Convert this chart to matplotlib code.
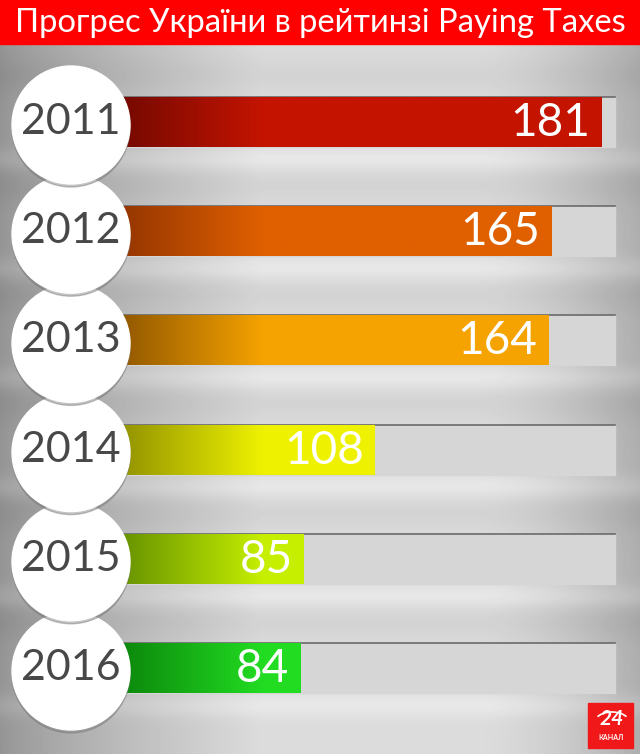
import numpy as np
import matplotlib
matplotlib.use("Agg")
import matplotlib.pyplot as plt
from matplotlib.patches import Rectangle, Circle, Arc
from matplotlib.colors import to_rgb

years = ['2011', '2012', '2013', '2014', '2015', '2016']
ranks = [181, 165, 164, 108, 85, 84]
dark_colors = ['#6e0800', '#8e3200', '#8a5200', '#8a8a00', '#5e8a00', '#0a800a']
bright_colors = ['#c41400', '#e06000', '#f5a300', '#eef200', '#c6ef00', '#22dc22']
title = 'Прогрес України в рейтинзі Paying Taxes'

W, H = 640, 754
plt.rcParams['font.family'] = ['Lato', 'DejaVu Sans']

fig = plt.figure(figsize=(W / 100, H / 100), dpi=100)

# background in pixel coordinates
ax_bg = fig.add_axes([0, 0, 1, 1])
ax_bg.set_xlim(0, W)
ax_bg.set_ylim(H, 0)
ax_bg.axis('off')

bar_h = 50
bar_tops = [97 + 109.2 * i for i in range(len(years))]

xs = np.arange(W)
col = 0.58 + 0.28 * np.clip(xs / 260, 0, 1) ** 0.8
col -= 0.18 * np.clip((xs - 480) / 160, 0, 1) ** 1.5
rows = np.zeros(H)
ys = np.arange(H)
for top in bar_tops:
    bot = top + bar_h
    rows += 0.05 * np.exp(-((ys - (bot + 12)) / 12) ** 2)
    rows -= 0.03 * np.exp(-((ys - (top - 22)) / 20) ** 2)
bg = np.clip(col[None, :] + rows[:, None], 0, 1)
ax_bg.imshow(bg, cmap='gray', vmin=0, vmax=1, extent=(0, W, H, 0), aspect='auto', zorder=0)

# title band
ax_bg.add_patch(Rectangle((0, 0), W, 44, color='#fe0000', zorder=1))
t = ax_bg.text(W / 2, 23, title, color='white', ha='center', va='center',
               fontsize=24, zorder=2)
fig.canvas.draw()
w = t.get_window_extent().width
t.set_fontsize(24 * 612 / w)

# tracks
for top in bar_tops:
    ax_bg.add_patch(Rectangle((110, top), 505, bar_h, color='#d6d6d6', zorder=1))
    ax_bg.plot([110, 615], [top, top], color='#6a6a6a', lw=1.2, zorder=1)

# bars in value units
ax = fig.add_axes([0, 0, 1, 1])
ax.patch.set_alpha(0)
ax.axis('off')
x0_px, px_per_unit = 40, 3.1
for i, (v, c0, c1) in enumerate(zip(ranks, dark_colors, bright_colors)):
    xv = np.linspace(0, v, 300)
    tt = np.clip((xv - 22) / 50, 0, 1)[:, None]
    rgb = (1 - tt) * np.array(to_rgb(c0)) + tt * np.array(to_rgb(c1))
    top = bar_tops[i]
    ax.imshow(rgb[None, :, :], extent=(0, v, top + bar_h, top), aspect='auto',
              interpolation='bilinear', zorder=2)
    ax.text(v - 11 / px_per_unit, top + bar_h / 2 + 1, str(v), color='white',
            ha='right', va='center', fontsize=33, zorder=3)
ax.set_xlim(-x0_px / px_per_unit, (W - x0_px) / px_per_unit)
ax.set_ylim(H, 0)

# circles with years on top
ax_top = fig.add_axes([0, 0, 1, 1])
ax_top.patch.set_alpha(0)
ax_top.set_xlim(0, W)
ax_top.set_ylim(H, 0)
ax_top.axis('off')
for i in reversed(range(len(years))):
    cy = bar_tops[i] + bar_h / 2 + 3
    z = 10 + (len(years) - i) * 2
    ax_top.add_patch(Circle((71, cy + 3), 59, color='#7a7a7a', alpha=0.45, zorder=z))
    ax_top.add_patch(Circle((71, cy), 59, color='white', zorder=z + 1))
    ax_top.text(71, cy - 3, years[i], color='#484848', ha='center', va='center',
                fontsize=31, zorder=z + 1)

# channel logo
ax_top.add_patch(Rectangle((588, 703), 45, 45, color='#f01818', zorder=30))
ax_top.add_patch(Arc((612, 722), 34, 20, theta1=200, theta2=340, color='white', lw=1.2, zorder=31))
ax_top.text(612, 719, '24', color='white', ha='center', va='center', fontsize=15,
            fontweight='bold', style='italic', zorder=31)
ax_top.text(611, 738, 'КАНАЛ', color='white', ha='center', va='center', fontsize=5,
            fontweight='bold', zorder=31)

fig.savefig('out.png', dpi=100)
